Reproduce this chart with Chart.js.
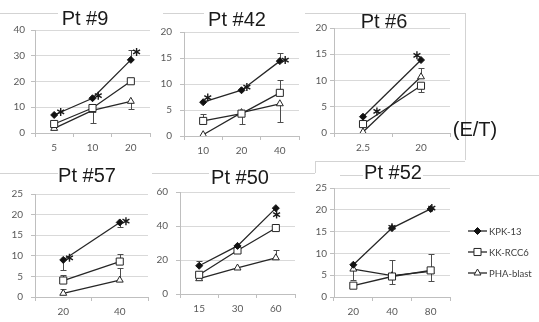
<!DOCTYPE html>
<html>
<head>
<meta charset="utf-8">
<script src="https://cdn.jsdelivr.net/npm/chart.js@4.4.0/dist/chart.umd.min.js"></script>
<style>
body { margin: 0; background: #fff; }
#wrap { position: relative; width: 539px; height: 322px; overflow: hidden; font-family: "Liberation Sans", Arial, sans-serif; }
canvas { position: absolute; }
.title { position: absolute; font-size: 20px; color: #1a1a1a; line-height: 20px; white-space: nowrap; transform: translateX(-50%); }
.hl { position: absolute; height: 1px; background: #d3d3d3; }
.vl { position: absolute; width: 1px; background: #d3d3d3; }
</style>
</head>
<body>
<div id="wrap">
  <!-- bordes de los graficos -->
  <div class="hl" style="left:0;top:13px;width:58px"></div>
  <div class="hl" style="left:163px;top:13px;width:41px"></div>
  <div class="hl" style="left:305px;top:13px;width:160px"></div>
  <div class="vl" style="left:465px;top:13px;height:147px"></div>
  <div class="hl" style="left:0;top:173px;width:58px"></div>
  <div class="hl" style="left:152px;top:173px;width:57px"></div>
  <div class="hl" style="left:270px;top:173px;width:45px"></div>
  <div class="vl" style="left:315px;top:161px;height:12px"></div>
  <div class="hl" style="left:315px;top:161px;width:150px"></div>
  <div class="hl" style="left:340px;top:175px;width:23px"></div>
  <div class="hl" style="left:423px;top:175px;width:116px"></div>

  <canvas id="c9" width="156" height="137" style="left:0;top:18px"></canvas>
  <canvas id="c42" width="156" height="140" style="left:149px;top:18px"></canvas>
  <canvas id="c6" width="157" height="137" style="left:299px;top:18px"></canvas>
  <canvas id="c57" width="154" height="139" style="left:0;top:180px"></canvas>
  <canvas id="c50" width="156" height="138" style="left:145px;top:178px"></canvas>
  <canvas id="c52" width="240" height="141" style="left:299px;top:178px"></canvas>

  <div class="title" style="left:85px;top:8px">Pt #9</div>
  <div class="title" style="left:237px;top:9px">Pt #42</div>
  <div class="title" style="left:384px;top:11px">Pt #6</div>
  <div class="title" style="left:87px;top:165px">Pt #57</div>
  <div class="title" style="left:240px;top:167px">Pt #50</div>
  <div class="title" style="left:393px;top:162px">Pt #52</div>
  <div class="title" style="left:475px;top:119px">(E/T)</div>
</div>
<script>
// Nombres de las series
const seriesNames = ["KPK-13", "KK-RCC6", "PHA-blast"];

// Pt #9
const labels9 = ["5", "10", "20"];
const kpk9 = [7, 13.5, 28.4];
const kk9 = [3.5, 9.7, 20.1];
const pha9 = [1.8, 8.8, 12.3];
const errKpk9 = [null, null, 32.2];
const errPha9 = [null, 3.8, 9.5];
const starPos9 = [0.17, 1.15, 2.15];
const starVal9 = [8.2, 14.5, 31.5];

// Pt #42
const labels42 = ["10", "20", "40"];
const kpk42 = [6.5, 8.8, 14.4];
const kk42 = [2.9, 4.3, 8.3];
const pha42 = [0.25, 4.5, 6.2];
const errKpk42 = [null, null, 16];
const errKkHi42 = [4.2, null, 10.7];
const errKkLo42 = [null, 2.3, null];
const errPha42 = [null, null, 2.6];
const starPos42 = [0.12, 1.14, 2.14];
const starVal42 = [7.4, 9.4, 14.6];

// Pt #6
const labels6 = ["2.5", "20"];
const kpk6 = [3.1, 13.9];
const kk6 = [1.7, 9.0];
const pha6 = [0.2, 10.7];
const errKk6 = [null, 7.8];
const errPha6 = [null, 12.3];
const starPos6 = [0.24, 0.93];
const starVal6 = [4.1, 14.8];

// Pt #57
const labels57 = ["20", "40"];
const kpk57 = [9.0, 18.1];
const kk57 = [4.0, 8.6];
const pha57 = [0.9, 4.1];
const errKpk57 = [6.6, 17];
const errKk57 = [5.3, 10.5];
const errPha57 = [2, 7];
const starPos57 = [0.11, 1.11];
const starVal57 = [9.5, 18.4];

// Pt #50
const labels50 = ["15", "30", "60"];
const kpk50 = [16.6, 28.3, 50.5];
const kk50 = [11.3, 25.6, 38.8];
const pha50 = [9.0, 15.3, 21.3];
const errKpk50 = [19.4, null, null];
const errPha50 = [null, null, 26];
const starPos50 = [2.02];
const starVal50 = [46.7];

// Pt #52
const labels52 = ["20", "40", "80"];
const kpk52 = [7.4, 15.8, 20.2];
const kk52 = [2.6, 4.7, 6.1];
const pha52 = [6.4, 4.9, 5.9];
const errPhaHi52 = [null, 8.6, 9.9];
const errPhaLo52 = [4, 3.0, 3.6];
const starPos52 = [1, 2.03];
const starVal52 = [16, 20.4];

const tickFont = { family: "Lato", size: 10 };

// Dibuja un asterisco de seis puntas
function drawStar(ctx, cx, cy) {
    const r = 4;
    ctx.beginPath();
    for (let k = 0; k < 3; k++) {
        const a = Math.PI / 2 + k * Math.PI / 3;
        ctx.moveTo(cx + r * Math.cos(a), cy - r * Math.sin(a));
        ctx.lineTo(cx - r * Math.cos(a), cy + r * Math.sin(a));
    }
    ctx.stroke();
}

// Barras de error, asteriscos y leyenda
const marksPlugin = {
    id: "marks",
    beforeDatasetsDraw(chart, args, opts) {
        const x = chart.scales.x, y = chart.scales.y, ctx = chart.ctx;
        ctx.save();
        ctx.strokeStyle = "#4d4d4d";
        ctx.lineWidth = 1;
        (opts.errors || []).forEach(e => {
            const vals = chart.data.datasets[e.ds].data;
            e.bounds.forEach((b, i) => {
                if (b == null) return;
                const px = Math.round(x.getPixelForValue(i)) + 0.5;
                const p0 = y.getPixelForValue(vals[i]);
                const p1 = Math.round(y.getPixelForValue(b)) + 0.5;
                ctx.beginPath();
                ctx.moveTo(px, p0);
                ctx.lineTo(px, p1);
                ctx.moveTo(px - 3, p1);
                ctx.lineTo(px + 3, p1);
                ctx.stroke();
            });
        });
        ctx.restore();
    },
    afterDatasetsDraw(chart, args, opts) {
        const x = chart.scales.x, y = chart.scales.y, ctx = chart.ctx;
        ctx.save();
        ctx.strokeStyle = "#1a1a1a";
        ctx.lineWidth = 1.4;
        (opts.starPos || []).forEach((p, i) => {
            drawStar(ctx, x.getPixelForValue(p), y.getPixelForValue(opts.starVal[i]));
        });
        ctx.restore();

        if (opts.legend) {
            const area = chart.chartArea;
            const x0 = area.right + 18;
            ctx.save();
            ctx.font = "9.5px Lato";
            ctx.textBaseline = "middle";
            chart.data.datasets.forEach((ds, i) => {
                const ly = area.top + 43 + i * 21;
                ctx.strokeStyle = ds.borderColor;
                ctx.lineWidth = ds.borderWidth;
                ctx.beginPath();
                ctx.moveTo(x0, ly);
                ctx.lineTo(x0 + 19, ly);
                ctx.stroke();
                ctx.fillStyle = ds.pointBackgroundColor;
                ctx.strokeStyle = ds.pointBorderColor;
                ctx.lineWidth = 1;
                Chart.helpers.drawPoint(ctx, { pointStyle: ds.pointStyle, radius: ds.pointRadius, rotation: 0, borderWidth: 1 }, x0 + 9.5, ly);
                ctx.fillStyle = "#404040";
                ctx.fillText(ds.label, x0 + 21, ly + 0.5);
            });
            ctx.restore();
        }
    }
};

function makeDatasets(kpk, kk, pha) {
    return [
        { label: seriesNames[0], data: kpk, borderColor: "#262626", borderWidth: 1.3,
          pointStyle: "rectRot", pointRadius: 3.5, pointBackgroundColor: "#111", pointBorderColor: "#111", pointBorderWidth: 1 },
        { label: seriesNames[1], data: kk, borderColor: "#262626", borderWidth: 1.3,
          pointStyle: "rect", pointRadius: 5, pointBackgroundColor: "#fff", pointBorderColor: "#262626", pointBorderWidth: 1 },
        { label: seriesNames[2], data: pha, borderColor: "#262626", borderWidth: 1.3,
          pointStyle: "triangle", pointRadius: 4, pointBackgroundColor: "#fff", pointBorderColor: "#262626", pointBorderWidth: 1 }
    ];
}

function makePanel(id, labels, kpk, kk, pha, yMax, yStep, yPad, padRight, marks) {
    new Chart(document.getElementById(id), {
        type: "line",
        data: { labels: labels, datasets: makeDatasets(kpk, kk, pha) },
        options: {
            responsive: false,
            animation: false,
            layout: { padding: { top: 10, right: padRight, bottom: 0, left: 0 } },
            plugins: {
                legend: { display: false },
                tooltip: { enabled: false },
                marks: marks
            },
            scales: {
                x: {
                    offset: true,
                    grid: { offset: true, drawOnChartArea: false, tickLength: 4, tickColor: "#bfbfbf" },
                    border: { color: "#bfbfbf" },
                    ticks: { color: "#595959", font: tickFont, padding: 5 },
                    afterFit(s) { s.height = 22; }
                },
                y: {
                    min: 0,
                    max: yMax,
                    grid: { color: "#d9d9d9", tickLength: 4, tickColor: "#bfbfbf" },
                    border: { color: "#bfbfbf" },
                    ticks: { stepSize: yStep, color: "#595959", font: tickFont, padding: yPad },
                    afterFit(s) { s.width = 35; }
                }
            }
        },
        plugins: [marksPlugin]
    });
}

makePanel("c9", labels9, kpk9, kk9, pha9, 40, 10, 6, 2, {
    errors: [{ ds: 0, bounds: errKpk9 }, { ds: 2, bounds: errPha9 }],
    starPos: starPos9, starVal: starVal9
});
makePanel("c42", labels42, kpk42, kk42, pha42, 20, 5, 8, 2, {
    errors: [{ ds: 0, bounds: errKpk42 }, { ds: 1, bounds: errKkHi42 }, { ds: 1, bounds: errKkLo42 }, { ds: 2, bounds: errPha42 }],
    starPos: starPos42, starVal: starVal42
});
makePanel("c6", labels6, kpk6, kk6, pha6, 20, 5, 3, 2, {
    errors: [{ ds: 1, bounds: errKk6 }, { ds: 2, bounds: errPha6 }],
    starPos: starPos6, starVal: starVal6
});
makePanel("c57", labels57, kpk57, kk57, pha57, 25, 5, 8, 2, {
    errors: [{ ds: 0, bounds: errKpk57 }, { ds: 1, bounds: errKk57 }, { ds: 2, bounds: errPha57 }],
    starPos: starPos57, starVal: starVal57
});
makePanel("c50", labels50, kpk50, kk50, pha50, 60, 20, 8, 2, {
    errors: [{ ds: 0, bounds: errKpk50 }, { ds: 2, bounds: errPha50 }],
    starPos: starPos50, starVal: starVal50
});
makePanel("c52", labels52, kpk52, kk52, pha52, 25, 5, 3, 89, {
    errors: [{ ds: 2, bounds: errPhaHi52 }, { ds: 2, bounds: errPhaLo52 }],
    starPos: starPos52, starVal: starVal52,
    legend: true
});
</script>
</body>
</html>
